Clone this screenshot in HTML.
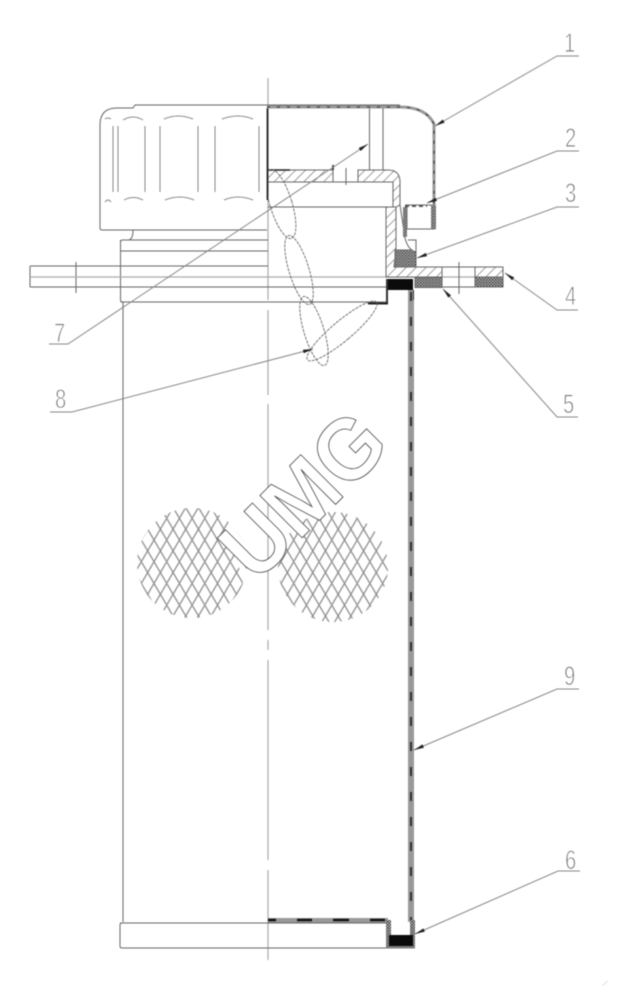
<!DOCTYPE html>
<html><head><meta charset="utf-8"><style>
html,body{margin:0;padding:0;background:#fff;width:622px;height:994px;overflow:hidden}
svg{display:block;filter:blur(.45px)}
text{font-family:"Liberation Sans",sans-serif}
.d{fill:#777;stroke:#fff;stroke-width:.9;font-size:27px}
</style></head><body>
<svg width="622" height="994" viewBox="0 0 622 994" xmlns="http://www.w3.org/2000/svg">
<defs>
<pattern id="hatch" width="7" height="7" patternUnits="userSpaceOnUse" patternTransform="rotate(45)"><rect width="7" height="7" fill="#fff"/><line x1="0" y1="0" x2="0" y2="7" stroke="#777" stroke-width="1.4"/></pattern>
<pattern id="stip" width="3" height="3" patternUnits="userSpaceOnUse"><rect width="3" height="3" fill="#aaa"/><rect width="1.5" height="1.5" fill="#444"/><rect x="1.5" y="1.5" width="1.5" height="1.5" fill="#555"/></pattern>
<pattern id="netA" width="12.7" height="21.7" patternUnits="userSpaceOnUse" patternTransform="translate(1.6 19.2)"><path d="M0 0L12.7 21.7" stroke="#888" stroke-width="1.2" fill="none"/></pattern>
<pattern id="netB" width="12.7" height="21.7" patternUnits="userSpaceOnUse" patternTransform="translate(1.6 19.2)"><path d="M12.7 0L0 21.7" stroke="#888" stroke-width="1.2" fill="none"/></pattern>
<clipPath id="cR"><rect x="268" y="100" width="200" height="300"/></clipPath>
<clipPath id="cL"><polygon points="120,490 222,490 244,590 243,630 120,630"/></clipPath>
<marker id="ar" markerWidth="14" markerHeight="6" refX="0" refY="2" orient="auto" markerUnits="userSpaceOnUse"><path d="M0 2L10 0.2L10 3.8Z" fill="#222"/></marker>
</defs>
<rect width="622" height="994" fill="#fff"/>

<!-- net circles -->
<circle cx="192" cy="563" r="55" fill="url(#netA)"/>
<g clip-path="url(#cL)"><circle cx="192" cy="563" r="55" fill="url(#netB)"/></g>
<circle cx="333" cy="567" r="55" fill="url(#netA)"/>
<circle cx="333" cy="567" r="55" fill="url(#netB)"/>

<!-- centre line -->
<g stroke="#aaa" stroke-width="1.2" fill="none">
<path d="M268 78V300M268 310V395M268 404V630M268 640V650M268 660V860M268 870V960"/>
</g>

<!-- body left part -->
<g fill="none" stroke="#666" stroke-width="1">
<path d="M100 125Q100 108 117 108H133L135 105H400"/>
<path d="M100 125V228Q100 230 102 230H267"/>
<path d="M133 230Q133 240 128 240"/>
<path d="M123 240H268M120.5 242Q120.5 240 123 240M120.5 240V300Q120.5 302 123 302H388"/>
<path d="M120.5 251H268M120.5 266H268"/>
<path d="M30 266H120M30 287H386M120.5 302H123"/>
<path d="M30 266V287"/>
<path d="M123 302V922"/>
<path d="M120 923H388V948H122Q120 948 120 946V925Q120 923 122 923Z"/>
<path d="M76 262V293"/>
</g>
<path d="M30 277H503" stroke="#aaa" stroke-width="1.2" fill="none"/>

<!-- ribs -->
<g fill="none" stroke="#888" stroke-width="1">
<path d="M113 126V192M118 126V192M145 126V192M160 126V192M198 126V192M215 126V192M259 126V192"/>
<path d="M123 120Q133 114 143 120M164 119Q178 113 193 119M222 119Q238 113 253 119M105 119Q108 117 111 119"/>
<path d="M124 200Q133 195 143 200M165 200Q180 194 194 200M224 200Q238 194 253 200M105 202Q108 198 111 202"/>
</g>

<!-- hatched plate and inner parts -->
<path d="M268 170H333V182H268Z" fill="url(#hatch)" stroke="#666"/>
<path d="M358 170H388Q400 170 400 182V205L396 207V250L393 250V207V182H358Z" fill="url(#hatch)" stroke="#666"/>
<path d="M386 207H396V250L394 267H442V277H386Z" fill="url(#hatch)" stroke="#666"/>
<path d="M475 267H503V277H475Z" fill="url(#hatch)" stroke="#666"/>
<rect x="475" y="277" width="28" height="10" fill="url(#stip)" stroke="#666"/>
<rect x="415" y="277.5" width="27" height="10" fill="url(#stip)" stroke="#666"/>
<path d="M395 250H416V267H395Z" fill="url(#stip)" stroke="#666"/>
<path d="M400 205L405 238Q408 250 416 252V240H408" fill="#fff" stroke="#666"/>
<g fill="none" stroke="#666" stroke-width="1">
<path d="M268 207H386M268 182H393V207"/>
<path d="M369.5 108V170M383 108V170"/>
<path d="M442 267V287M475 267V287M503 267V287M442 267H475M442 287H475"/>
<path d="M459 262V294M346 168V185"/>
<path d="M405 205H432M407 229H435M407 205V229"/>
</g>
<path d="M267.500 108V200" stroke="#222" stroke-width="1.8" fill="none"/>
<path d="M268 170H290M333 170V165" stroke="#222" stroke-width="1.6" fill="none"/>

<!-- cap top band -->
<path d="M267 107H400Q426 107 434 124V229" fill="none" stroke="#999" stroke-width="3"/>
<path d="M267 107H400Q426 107 434 124V229" fill="none" stroke="#333" stroke-width="1" stroke-dasharray="3 7"/>
<rect x="431" y="205" width="5" height="24" fill="url(#stip)"/>
<rect x="403" y="207" width="4" height="30" fill="url(#stip)"/>
<path d="M405 206H427" stroke="#555" stroke-width="2" fill="none" stroke-dasharray="4 3"/>

<!-- seal / black -->
<rect x="388" y="279" width="25" height="11" fill="#0b0b0b"/>
<rect x="386" y="279" width="2" height="25" fill="#333"/>
<path d="M368 303.500H388" stroke="#222" stroke-width="2" fill="none"/>

<!-- tube -->
<rect x="408" y="290" width="6" height="632" fill="#999"/>
<path d="M411 292V920" stroke="#1a1a1a" stroke-width="1.6" stroke-dasharray="9 16" fill="none"/>
<path d="M413.500 290V300" stroke="#333" fill="none"/>

<!-- bottom -->
<rect x="268" y="918" width="120" height="4.500" fill="#999"/>
<path d="M268 920H276M297 920H312M333 920H349M370 920H385" stroke="#111" stroke-width="2.400" fill="none"/>
<rect x="386" y="920" width="5" height="28.500" fill="url(#stip)"/>
<rect x="410" y="920" width="5" height="28.500" fill="url(#stip)"/>
<rect x="386" y="945" width="29" height="3.500" fill="url(#stip)"/>
<rect x="389" y="935" width="24" height="11" fill="#0b0b0b"/>

<!-- petals -->
<g fill="none" stroke="#666" stroke-width=".9" stroke-dasharray="3 1">
<g clip-path="url(#cR)"><ellipse cx="281" cy="204" rx="11" ry="36" transform="rotate(-17 281 204)"/></g>
<ellipse cx="299" cy="270" rx="10" ry="36" transform="rotate(-17 299 270)"/>
<ellipse cx="314" cy="331" rx="10" ry="36" transform="rotate(-17 314 331)"/>
<ellipse cx="342" cy="331" rx="10" ry="45" transform="rotate(50 342 331)"/>
</g>

<!-- leaders -->
<g fill="none" stroke="#888" stroke-width="1">
<polyline points="435,126 557,56 579,56" marker-start="url(#ar)"/>
<polyline points="427,203 557,151 579,151" marker-start="url(#ar)"/>
<polyline points="417,258 557,207 579,207" marker-start="url(#ar)"/>
<polyline points="505,273 557,310 578,310" marker-start="url(#ar)"/>
<polyline points="443,289 557,417 578,417" marker-start="url(#ar)"/>
<polyline points="415,934 558,871 580,871" marker-start="url(#ar)"/>
<polyline points="368,144 68,344 49,344" marker-start="url(#ar)"/>
<polyline points="313,349 72,412 50,412" marker-start="url(#ar)"/>
<polyline points="414,750 557,689 579,689" marker-start="url(#ar)"/>
</g>

<!-- digits -->
<g class="d">
<text transform="translate(564 52) scale(.75 1)">1</text>
<text transform="translate(565 147) scale(.75 1)">2</text>
<text transform="translate(565 202) scale(.75 1)">3</text>
<text transform="translate(565 305) scale(.75 1)">4</text>
<text transform="translate(563 413) scale(.75 1)">5</text>
<text transform="translate(565 869) scale(.75 1)">6</text>
<text transform="translate(54 342) scale(.75 1)">7</text>
<text transform="translate(55 408) scale(.75 1)">8</text>
<text transform="translate(564 685) scale(.75 1)">9</text>
</g>

<!-- watermark -->
<text transform="translate(256 584) rotate(-45)" font-size="87" font-weight="bold" textLength="193" lengthAdjust="spacingAndGlyphs" fill="#fff" stroke="#444" stroke-width=".8">UMG</text>

<path d="M603 985L608 981" stroke="#bbb" fill="none" stroke-dasharray="1 1"/>
</svg>
</body></html>
